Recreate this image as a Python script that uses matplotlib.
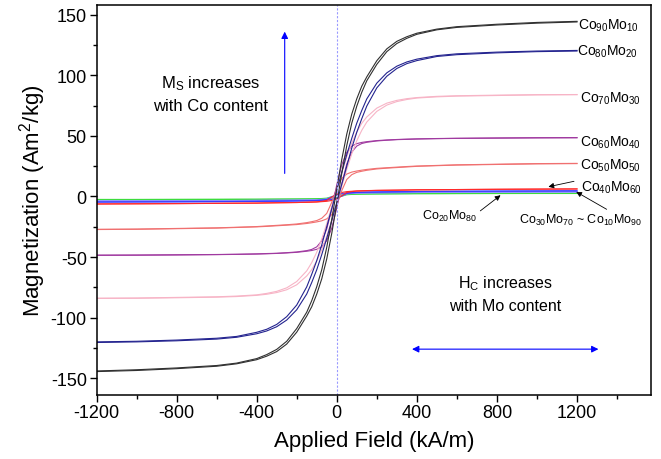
import numpy as np
import matplotlib
matplotlib.use("Agg")
from matplotlib import pyplot as plt

plt.rcParams['font.family'] = ['Liberation Sans', 'DejaVu Sans']
plt.rcParams['mathtext.default'] = 'regular'
plt.rcParams['axes.unicode_minus'] = False

# applied field grid (kA/m) for the descending branch of each loop
field = [-1200, -1000, -800, -600, -500, -400, -350, -300, -250, -200, -150, -125, -100, -75, -50, -25,
         0, 25, 50, 75, 100, 125, 150, 200, 250, 300, 350, 400, 500, 600, 800, 1000, 1200]

# descending branch magnetization (Am2/kg); ascending branch is the point mirror
m_co90 = [-144, -143, -141.5, -139.5, -137.5, -133.8, -130.5, -126.2, -119.5, -109, -95.5, -86, -74.5, -60.5, -42, -19,
          6, 30.5, 51.5, 68, 80.6, 91, 98.7, 112, 121.8, 128, 131.8, 134.7, 138.1, 140.1, 142.1, 143.6, 144.5]
m_co80 = [-120, -119.5, -118.5, -117, -115.5, -112.1, -109.6, -105.6, -99.2, -89.6, -74.6, -64.2, -53, -40, -25, -10,
          5, 20, 34.5, 48, 60.5, 71, 80.5, 93.5, 102, 107.5, 111, 113.3, 116.2, 117.7, 119.1, 120, 120.5]
m_co70 = [-84, -83.8, -83.3, -82.8, -82.2, -81.2, -80, -78.3, -75.4, -70.2, -61.4, -54.6, -46, -35.2, -22.4, -8.4,
          5.6, 19.6, 32.8, 44, 53.2, 60.4, 65.6, 72.9, 77, 79.3, 80.7, 81.6, 82.6, 83.1, 83.6, 84, 84.1]
m_co60 = [-48.4, -48.3, -48.1, -47.9, -47.7, -47.4, -47.1, -46.9, -46.4, -45.8, -44.7, -43.7, -41.6, -36.6, -26.8, -10.4,
          9.6, 26.2, 36.4, 41.6, 43.6, 44.6, 45.2, 46.1, 46.6, 47, 47.3, 47.5, 47.8, 48, 48.3, 48.5, 48.6]
m_co50 = [-27.1, -26.9, -26.4, -25.9, -25.4, -24.85, -24.35, -23.85, -23.35, -22.7, -21.6, -20.8, -19.9, -18, -14, -4.8,
          7.2, 15, 18.5, 20.1, 21, 21.7, 22.3, 23.2, 23.7, 24.2, 24.7, 25.1, 25.6, 26.1, 26.6, 27.1, 27.3]
m_co40 = [-6.2, -6, -5.85, -5.7, -5.55, -5.45, -5.3, -5.2, -5.1, -5, -4.75, -4.6, -4.4, -4, -3.3, -0.5,
          2, 3.3, 4, 4.3, 4.6, 4.7, 4.85, 5, 5.1, 5.2, 5.35, 5.5, 5.6, 5.7, 5.95, 6.1, 6.2]
m_co30 = [-4.6, -4.5, -4.4, -4.25, -4.15, -4.05, -3.95, -3.9, -3.8, -3.7, -3.55, -3.45, -3.3, -3, -2.5, -0.4,
          1.5, 2.5, 3, 3.2, 3.4, 3.5, 3.6, 3.7, 3.8, 3.9, 4, 4.1, 4.2, 4.3, 4.4, 4.5, 4.6]
m_co20 = [-3.7, -3.6, -3.5, -3.4, -3.35, -3.25, -3.2, -3.15, -3.1, -3, -2.85, -2.75, -2.65, -2.4, -2, -0.3,
          1.2, 2, 2.4, 2.6, 2.7, 2.8, 2.9, 3, 3.05, 3.1, 3.2, 3.25, 3.35, 3.45, 3.55, 3.65, 3.7]
m_co10 = [-2.6, -2.55, -2.5, -2.45, -2.4, -2.35, -2.3, -2.25, -2.2, -2.15, -2.05, -2, -1.9, -1.7, -1.4, -0.2,
          0.8, 1.4, 1.7, 1.85, 1.95, 2, 2.05, 2.1, 2.15, 2.2, 2.25, 2.3, 2.3, 2.35, 2.4, 2.45, 2.45]

loops = [
    (m_co10, '#3ddc3d'),
    (m_co20, '#8c8cff'),
    (m_co30, '#3a3aff'),
    (m_co40, '#ff2a2a'),
    (m_co50, '#f07070'),
    (m_co60, '#a03aa0'),
    (m_co70, '#f7b4c6'),
    (m_co80, '#23238f'),
    (m_co90, '#303030'),
]

fig = plt.figure(figsize=(6.61, 4.6), dpi=100)
ax = fig.add_axes([0.146, 0.140, 0.839, 0.847])

h = np.array(field, dtype=float)
for m, c in loops:
    m = np.array(m, dtype=float)
    ax.plot(h, m, color=c, lw=0.8)
    ax.plot(-h[::-1], -m[::-1], color=c, lw=0.8)

ax.axvline(0, color='#9a9aff', lw=0.8, ls=(0, (2, 1.5)))

ax.set_xlim(-1200, 1570)
ax.set_ylim(-163.5, 158)
ax.set_xticks([-1200, -800, -400, 0, 400, 800, 1200])
ax.set_xticks(np.arange(-1000, 1600, 400), minor=True)
ax.set_yticks([-150, -100, -50, 0, 50, 100, 150])
ax.set_yticks(np.arange(-125, 150, 50), minor=True)
ax.tick_params(which='major', direction='out', length=5, width=1, labelsize=13, pad=2)
ax.tick_params(which='minor', direction='out', length=3, width=1)
for s in ax.spines.values():
    s.set_linewidth(1.1)

ax.set_xlabel('Applied Field (kA/m)', fontsize=16, labelpad=6)
ax.set_ylabel('Magnetization (Am$^2$/kg)', fontsize=16, labelpad=2)

# composition labels
lab = dict(fontsize=10, ha='left', va='center')
ax.text(1206, 141.8, 'Co$_{90}$Mo$_{10}$', **lab)
ax.text(1201, 120, 'Co$_{80}$Mo$_{20}$', **lab)
ax.text(1213, 81.2, 'Co$_{70}$Mo$_{30}$', **lab)
ax.text(1217, 45, 'Co$_{60}$Mo$_{40}$', **lab)
ax.text(1213, 26.3, 'Co$_{50}$Mo$_{50}$', **lab)
ax.text(1221, 8.2, 'Co$_{40}$Mo$_{60}$', **lab)
ax.text(908, -18.6, 'Co$_{30}$Mo$_{70}$ ~ Co$_{10}$Mo$_{90}$', fontsize=9, ha='left', va='center')
ax.text(426, -15.5, 'Co$_{20}$Mo$_{80}$', fontsize=9, ha='left', va='center')

pointer = dict(arrowstyle='-|>', color='black', lw=0.6, mutation_scale=8, shrinkA=0, shrinkB=0)
ax.annotate('', xy=(1057, 8.0), xytext=(1185, 12.5), arrowprops=pointer)
ax.annotate('', xy=(1196, 3.8), xytext=(1348, -10.6), arrowprops=pointer)
ax.annotate('', xy=(818, 1.0), xytext=(717, -11.9), arrowprops=pointer)

# trend arrows and notes
ax.annotate('', xy=(-260, 136), xytext=(-260, 19),
            arrowprops=dict(arrowstyle='-|>', color='blue', lw=0.8, mutation_scale=10,
                            shrinkA=0, shrinkB=0))
ax.annotate('', xy=(1307, -126), xytext=(376, -126),
            arrowprops=dict(arrowstyle='<|-|>', color='blue', lw=0.8, mutation_scale=10,
                            shrinkA=0, shrinkB=0))
ax.text(-628, 85, 'M$_S$ increases\nwith Co content', fontsize=12, ha='center', va='center',
        linespacing=1.5)
ax.text(842, -80, 'H$_C$ increases\nwith Mo content', fontsize=11.5, ha='center', va='center',
        linespacing=1.5)

fig.savefig('out.png', dpi=100)
